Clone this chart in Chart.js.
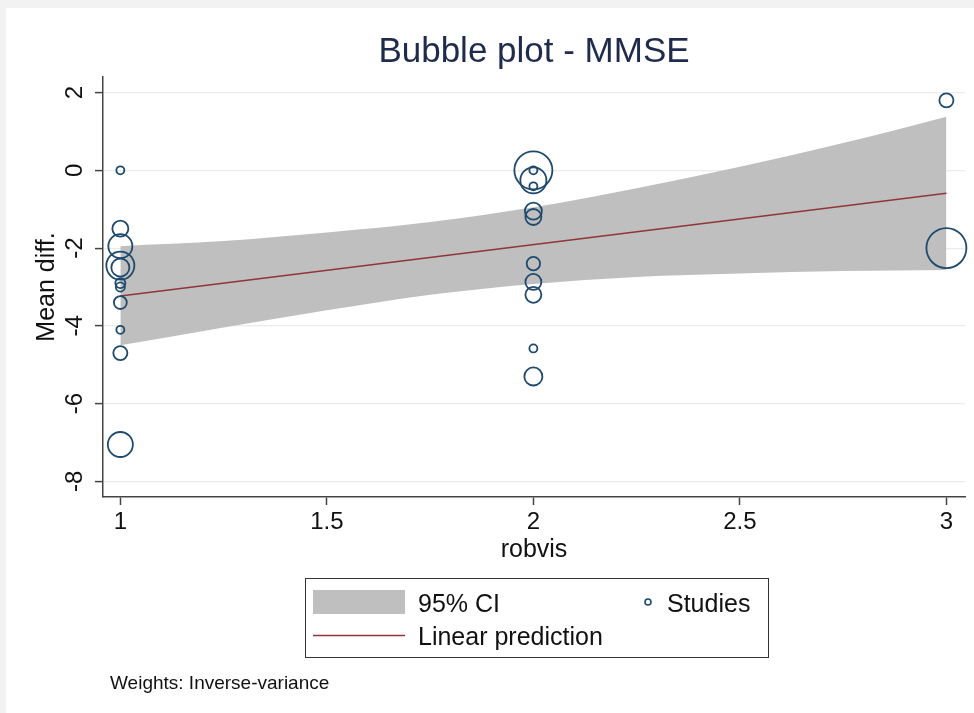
<!DOCTYPE html>
<html>
<head>
<meta charset="utf-8">
<title>Bubble plot - MMSE</title>
<script src="https://cdn.jsdelivr.net/npm/chart.js@4/dist/chart.umd.min.js"></script>
<style>
  html, body { margin: 0; padding: 0; background: #ffffff; }
  #plot { display: block; }
</style>
</head>
<body>
<canvas id="plot" width="974" height="713"></canvas>
<script>
// Risk-of-bias rating (robvis) and mean difference for each study
const studyRobvis = [
  1, 1, 1, 1, 1, 1, 1, 1, 1, 1, 1,
  2, 2, 2, 2, 2, 2, 2, 2, 2, 2, 2,
  3, 3
];
const studyMeanDiff = [
  0.0, -1.5, -1.95, -2.45, -2.5, -2.9, -3.0, -3.4, -4.1, -4.7, -7.05,
  0.0, 0.0, -0.26, -0.41, -1.05, -1.2, -2.4, -2.87, -3.2, -4.58, -5.3,
  1.8, -2.0
];
// Inverse-variance weights (relative)
const studyWeight = [
  1.0, 4.0, 9.0, 12.3, 5.1, 1.6, 1.3, 2.6, 1.0, 3.1, 9.8,
  22.6, 1.0, 10.6, 1.0, 4.5, 4.0, 2.8, 4.0, 4.0, 1.0, 5.1,
  3.1, 25.0
];

// Fitted meta-regression line
const fitX = [1, 3];
const fitY = [-3.23, -0.59];

// 95% confidence band of the fitted line
const bandX     = [1, 1.25, 1.5, 1.75, 2, 2.25, 2.5, 2.75, 3];
const bandUpper = [-1.95, -1.82, -1.60, -1.33, -0.95, -0.46, 0.09, 0.70, 1.38];
const bandLower = [-4.50, -4.04, -3.60, -3.20, -2.92, -2.74, -2.65, -2.59, -2.56];

// Axis ticks
const xTickValues = [1, 1.5, 2, 2.5, 3];
const xTickLabels = ['1', '1.5', '2', '2.5', '3'];
const yTickValues = [2, 0, -2, -4, -6, -8];
const yTickLabels = ['2', '0', '-2', '-4', '-6', '-8'];

const NAVY = '#1f4a6e';
const MAROON = '#90353b';
const BAND = '#bfbfbf';
const FONT = "'Liberation Sans', Arial, Helvetica, sans-serif";
const BUBBLE_SCALE = 4.0; // radius in px per sqrt(weight)

const points = (xs, ys) => xs.map((x, i) => ({ x: x, y: ys[i] }));

const bubbleData = studyRobvis.map((x, i) => ({
  x: x,
  y: studyMeanDiff[i],
  r: BUBBLE_SCALE * Math.sqrt(studyWeight[i])
}));

// Page frame, rotated y tick labels, legend box and footnote
const decorations = {
  id: 'decorations',
  beforeDraw(chart) {
    const ctx = chart.ctx;
    ctx.save();
    ctx.fillStyle = '#f2f2f2';
    ctx.fillRect(0, 0, chart.width, chart.height);
    ctx.fillStyle = '#ffffff';
    ctx.fillRect(6, 8, chart.width - 6, chart.height - 8);
    ctx.restore();
  },
  afterDraw(chart) {
    const ctx = chart.ctx;
    const yScale = chart.scales.y;
    ctx.save();
    // y tick labels, rotated to read bottom-up
    ctx.fillStyle = '#111111';
    ctx.font = '24px ' + FONT;
    ctx.textAlign = 'center';
    ctx.textBaseline = 'middle';
    yTickValues.forEach((v, i) => {
      const py = yScale.getPixelForValue(v);
      ctx.save();
      ctx.translate(74, py);
      ctx.rotate(-Math.PI / 2);
      ctx.fillText(yTickLabels[i], 0, 1);
      ctx.restore();
    });

    // legend
    const bx = 305.5, by = 578.5, bw = 463, bh = 79;
    ctx.strokeStyle = '#333333';
    ctx.lineWidth = 1;
    ctx.strokeRect(bx, by, bw, bh);

    const bandSet = chart.data.datasets[2];
    ctx.fillStyle = bandSet.backgroundColor;
    ctx.fillRect(313, 590, 92, 24);

    const fitSet = chart.data.datasets[1];
    ctx.strokeStyle = fitSet.borderColor;
    ctx.lineWidth = 1.5;
    ctx.beginPath();
    ctx.moveTo(313, 635.5);
    ctx.lineTo(405, 635.5);
    ctx.stroke();

    const studySet = chart.data.datasets[0];
    ctx.strokeStyle = studySet.borderColor;
    ctx.lineWidth = 1.6;
    ctx.beginPath();
    ctx.arc(648, 602, 3, 0, Math.PI * 2);
    ctx.stroke();

    ctx.fillStyle = '#111111';
    ctx.font = '25px ' + FONT;
    ctx.textAlign = 'left';
    ctx.textBaseline = 'alphabetic';
    ctx.fillText(bandSet.label, 418, 612);
    ctx.fillText(studySet.label, 667, 612);
    ctx.fillText(fitSet.label, 418, 645);

    // footnote
    ctx.font = '19px ' + FONT;
    ctx.fillText('Weights: Inverse-variance', 110, 689);
    ctx.restore();
  }
};

new Chart(document.getElementById('plot'), {
  data: {
    datasets: [
      {
        type: 'bubble',
        label: 'Studies',
        data: bubbleData,
        backgroundColor: 'rgba(0,0,0,0)',
        borderColor: NAVY,
        borderWidth: 1.8,
        hoverRadius: 0,
        clip: false,
        order: 0
      },
      {
        type: 'line',
        label: 'Linear prediction',
        data: points(fitX, fitY),
        borderColor: MAROON,
        borderWidth: 1.6,
        pointRadius: 0,
        fill: false,
        order: 1
      },
      {
        type: 'line',
        label: '95% CI',
        data: points(bandX, bandUpper),
        borderWidth: 0,
        borderColor: BAND,
        backgroundColor: BAND,
        pointRadius: 0,
        cubicInterpolationMode: 'monotone',
        fill: '+1',
        order: 2
      },
      {
        type: 'line',
        label: '95% CI lower',
        data: points(bandX, bandLower),
        borderWidth: 0,
        borderColor: BAND,
        backgroundColor: BAND,
        pointRadius: 0,
        cubicInterpolationMode: 'monotone',
        fill: false,
        order: 3
      }
    ]
  },
  options: {
    responsive: false,
    animation: false,
    devicePixelRatio: 1,
    events: [],
    layout: { autoPadding: false, padding: { left: 8, right: 9, top: 0, bottom: 148 } },
    plugins: {
      legend: { display: false },
      tooltip: { enabled: false },
      title: {
        display: true,
        text: 'Bubble plot - MMSE',
        fullSize: false,
        color: '#1e2b4c',
        font: { family: FONT, size: 35, weight: 'normal' },
        padding: { top: 31, bottom: 4 }
      }
    },
    scales: {
      x: {
        type: 'linear',
        min: 0.958,
        max: 3.045,
        afterBuildTicks: (s) => { s.ticks = xTickValues.map(v => ({ value: v })); },
        afterFit: (s) => { s.height = 68; s.paddingLeft = 0; s.paddingRight = 0; },
        ticks: {
          color: '#111111',
          font: { family: FONT, size: 24 },
          padding: 3,
          maxRotation: 0,
          callback: (v) => xTickLabels[xTickValues.indexOf(v)]
        },
        grid: {
          drawOnChartArea: false,
          drawTicks: true,
          tickLength: 8,
          tickColor: '#444444',
          tickWidth: 1.5
        },
        border: { display: true, color: '#444444', width: 1.5 },
        title: {
          display: true,
          text: 'robvis',
          color: '#111111',
          font: { family: FONT, size: 25 },
          padding: { top: 0, bottom: 0 }
        }
      },
      y: {
        type: 'linear',
        min: -8.4,
        max: 2.4,
        afterBuildTicks: (s) => { s.ticks = yTickValues.map(v => ({ value: v })); },
        afterFit: (s) => { s.width = 95; },
        ticks: { display: false },
        grid: {
          drawOnChartArea: true,
          color: '#ebebeb',
          lineWidth: 1.2,
          drawTicks: true,
          tickLength: 8,
          tickColor: '#444444',
          tickWidth: 1.5
        },
        border: { display: true, color: '#444444', width: 1.5 },
        title: {
          display: true,
          text: 'Mean diff.',
          color: '#111111',
          font: { family: FONT, size: 25 },
          padding: { top: 24, bottom: 0 }
        }
      }
    }
  },
  plugins: [decorations]
});
</script>
</body>
</html>
